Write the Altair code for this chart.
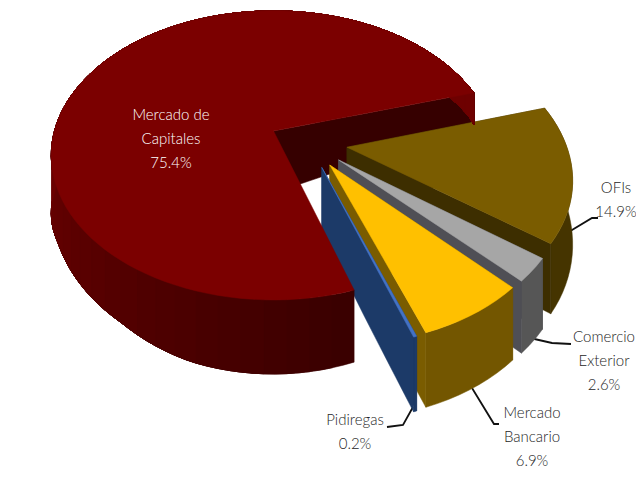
import numpy as np
import altair as alt

labels = ["Mercado de\nCapitales\n75.4%", "OFIs\n14.9%", "Comercio\nExterior\n2.6%", "Mercado\nBancario\n6.9%", "Pidiregas\n0.2%"]
values = [75.4, 14.9, 2.6, 6.9, 0.2]
top_colors = ["#7b0000", "#7a5c00", "#a6a6a6", "#ffc000", "#4472c4"]
radial_colors = ["#360000", "#3d2e00", "#4f4f55", "#7a5c00", "#1c3a68"]
rim_dark = ["#3a0000", "#453400", "#565656", "#735600", "#1c3a68"]
rim_light = ["#6e0000", "#453400", "#565656", "#735600", "#1c3a68"]
radii = [1.0, 0.985, 0.975, 0.975, 0.975]
label_x = [171, 616, 604, 532, 355]
label_y = [115, 188, 337, 413, 420]
label_colors = ["#ffffff", "#262626", "#262626", "#262626", "#262626"]
leader_x = [[567, 592, 598], [530, 552, 571], [472, 494, 499], [413, 403, 387]]
leader_y = [[233, 218, 218], [338, 343, 344], [388, 424, 424], [407, 425, 427]]

# view model of the tilted, exploded pie
START = 72.0
EXPLODE = 0.176
PERSP = 0.169
SCALE_X, SCALE_Y = 219.0, 140.4
ORIGIN = (273.5, 131.0)


def project(X, Y):
    s = 1.0 / (1.0 - PERSP * Y)
    return ORIGIN[0] + SCALE_X * X * s, ORIGIN[1] + SCALE_Y * Y * s


def depth(i, Y):
    if i == 0:
        return float(np.interp(Y, [-0.3, 0, 0.4, 0.8, 0.95, 1.0], [30, 62, 52, 62, 72, 74]))
    return float(np.interp(Y, [0, 0.7, 1.2], [58, 70, 75]))


def hexmix(a, b, t):
    ca = [int(a[k:k + 2], 16) for k in (1, 3, 5)]
    cb = [int(b[k:k + 2], 16) for k in (1, 3, 5)]
    return "#%02x%02x%02x" % tuple(int(round(x + (y - x) * t)) for x, y in zip(ca, cb))


def poly(ring, color):
    ring = [[float(x), float(y)] for x, y in ring]
    return {"type": "Feature", "c": color,
            "geometry": {"type": "Polygon", "coordinates": [ring + [ring[0]]]}}


def band(i, pts, color):
    """Side wall below a run of points on the top face."""
    upper = [project(*p) for p in pts]
    lower = [(x, y + depth(i, p[1])) for (x, y), p in zip(upper, pts)]
    return poly(upper + lower[::-1], color)


angles = np.cumsum([0] + [v * 3.6 for v in values]) + START
mids = np.radians((angles[:-1] + angles[1:]) / 2)
base = (np.cos(mids[0]), np.sin(mids[0]))

parts = {}
for i in range(len(values)):
    vx = EXPLODE * (np.cos(mids[i]) - base[0])
    vy = EXPLODE * (np.sin(mids[i]) - base[1])
    a0, a1 = angles[i], angles[i + 1]
    n = max(2, int((a1 - a0) / 2.5))
    th = np.radians(np.linspace(a0, a1, n + 1))
    R = radii[i]
    rim = [(vx + R * np.cos(t), vy + R * np.sin(t)) for t in th]

    def wall(p, q):
        return [band(i, [(p[0] + (q[0] - p[0]) * u, p[1] + (q[1] - p[1]) * u) for u in np.linspace(0, 1, 13)],
                     radial_colors[i])]

    if rim_dark[i] == rim_light[i]:
        rim_wall = [band(i, rim, rim_dark[i])]
    else:
        # each band runs on to the end of the rim, so no seams show between bands
        rim_wall = []
        for k in range(0, n, 2):
            deg = np.degrees(th[k])
            t = min(1.0, max(0.0, (deg - 72) / 110))
            rim_wall.append(band(i, rim[k:], hexmix(rim_dark[i], rim_light[i], t)))
    top = poly([project(vx, vy)] + [project(*p) for p in rim], top_colors[i])
    parts[i] = dict(start=wall((vx, vy), rim[0]), end=wall((vx, vy), rim[-1]), rim=rim_wall, top=[top])

# back to front: the main slice's far cut wall lies behind the others, its front lies over them
features = list(parts[0]["end"])
for i in range(1, len(values)):
    features += parts[i]["start"] + parts[i]["rim"] + parts[i]["end"] + parts[i]["top"]
features += parts[0]["rim"] + parts[0]["top"]

leaders = [{"type": "Feature", "geometry": {"type": "LineString",
            "coordinates": [[float(a), float(b)] for a, b in zip(xs, ys)]}}
           for xs, ys in zip(leader_x, leader_y)]
text_rows = [{"t": t, "lon": x, "lat": y, "col": c}
             for t, x, y, c in zip(labels, label_x, label_y, label_colors)]

PROJ = dict(type="identity", scale=1, translate=[-8, -8])

faces = alt.Chart(alt.Data(values=features)).mark_geoshape(strokeWidth=0.5).encode(
    fill=alt.Fill("c:N", scale=None),
    stroke=alt.Stroke("c:N", scale=None),
).project(**PROJ)

lines = alt.Chart(alt.Data(values=leaders)).mark_geoshape(
    filled=False, stroke="#111111", strokeWidth=1.8
).project(**PROJ)

texts = alt.Chart(alt.Data(values=text_rows)).mark_text(
    font="Lato", fontSize=15, fontWeight=300, lineBreak="\n", lineHeight=24, align="center", baseline="middle"
).encode(
    longitude="lon:Q", latitude="lat:Q", text="t:N",
    color=alt.Color("col:N", scale=None),
).project(**PROJ)

chart = alt.layer(lines, faces, texts).properties(
    width=628, height=462, padding=0, autosize=alt.AutoSizeParams(type="none")
).configure_view(stroke=None)

chart.save("out.html", embed_options={"renderer": "svg", "actions": False})
